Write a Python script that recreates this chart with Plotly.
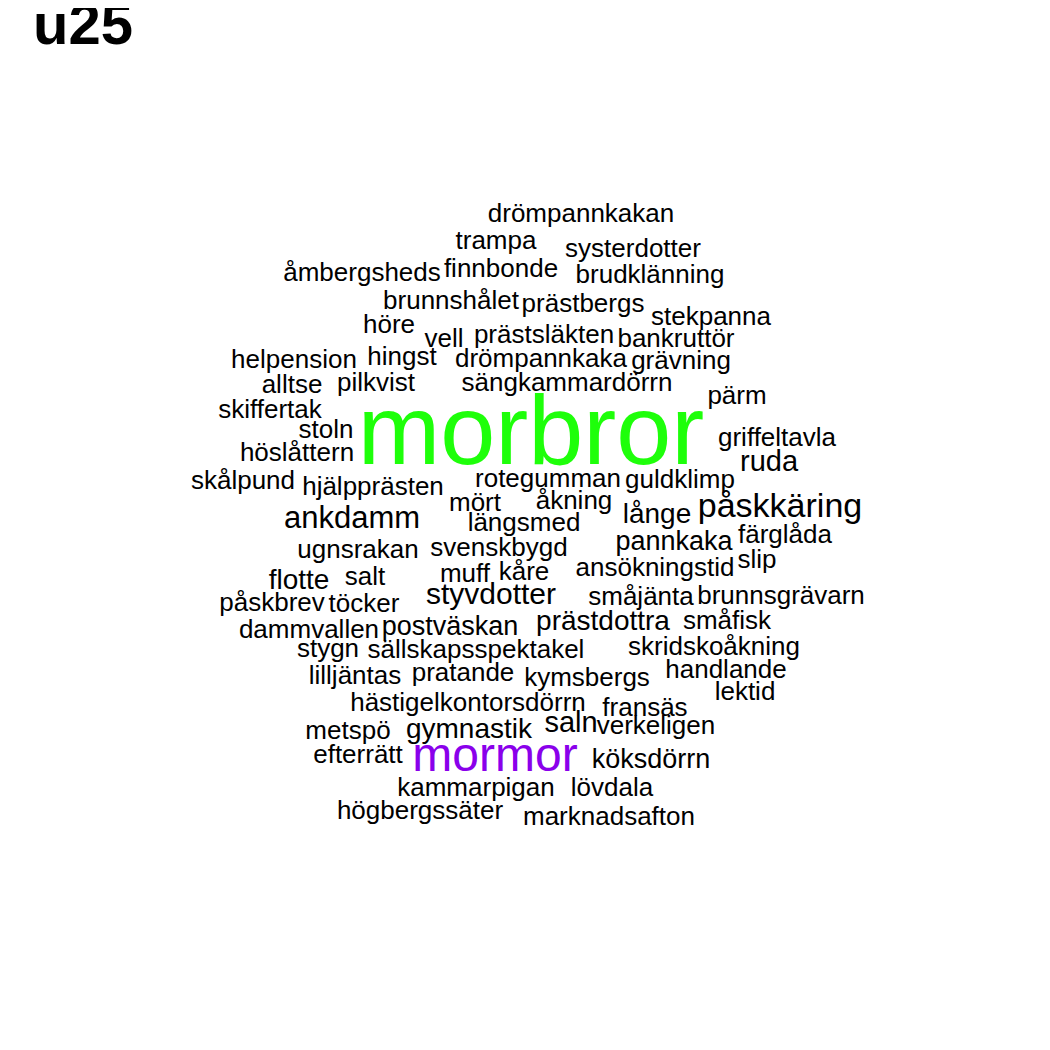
import plotly.graph_objects as go

words = ["drömpannkakan", "trampa", "systerdotter", "åmbergsheds", "finnbonde", "brudklänning",
         "brunnshålet", "prästbergs", "stekpanna", "höre", "vell", "prästsläkten", "bankruttör",
         "helpension", "hingst", "drömpannkaka", "grävning", "alltse", "pilkvist", "sängkammardörrn",
         "pärm", "skiffertak", "morbror", "stoln", "höslåttern", "griffeltavla", "ruda", "skålpund",
         "hjälpprästen", "rotegumman", "guldklimp", "mört", "åkning", "påskkäring", "ankdamm",
         "längsmed", "långe", "pannkaka", "färglåda", "ugnsrakan", "svenskbygd", "slip",
         "ansökningstid", "flotte", "salt", "muff", "kåre", "styvdotter", "småjänta", "brunnsgrävarn",
         "påskbrev", "töcker", "dammvallen", "postväskan", "prästdottra", "småfisk", "stygn",
         "sällskapsspektakel", "skridskoåkning", "lilljäntas", "pratande", "kymsbergs", "handlande",
         "lektid", "hästigelkontorsdörrn", "fransäs", "metspö", "gymnastik", "saln", "verkeligen",
         "efterrätt", "mormor", "köksdörrn", "kammarpigan", "lövdala", "högbergssäter", "marknadsafton"]

word_x = [581, 496, 633, 362, 501, 650,
          451, 583, 711, 389, 444, 544, 676,
          294, 402, 541, 681, 292, 376, 567,
          737, 270, 531, 326, 297, 777, 769, 243,
          373, 548, 680, 475, 574, 780, 352,
          524, 657, 674, 785, 358, 499, 757,
          655, 299, 365, 465, 524, 491, 641, 781,
          272, 364, 309, 450, 603, 727, 328,
          476, 714, 355, 463, 587, 726,
          745, 468, 645, 348, 469, 571, 656,
          358, 495, 651, 476, 612, 420, 609]

word_y = [213, 240, 248, 272, 268, 274,
          300, 303, 316, 324, 338, 334, 338,
          359, 356, 358, 360, 384, 382, 382,
          395, 409, 437, 429, 452, 437, 462, 480,
          486, 478, 479, 502, 500, 506, 518,
          522, 514, 541, 534, 549, 547, 559,
          567, 580, 576, 573, 571, 594, 596, 595,
          602, 603, 629, 626, 621, 620, 648,
          649, 646, 675, 672, 677, 669,
          691, 702, 707, 730, 729, 723, 725,
          754, 757, 759, 787, 787, 810, 816]

word_size = [26, 26, 26, 26, 26, 26,
             26, 26, 26, 26, 26, 26, 26,
             26, 26, 26, 26, 26, 26, 26,
             26, 26, 99, 26, 26, 26, 29, 26,
             26, 26, 26, 26, 26, 34, 31,
             26, 28, 27, 26, 26, 26, 26,
             26, 28, 26, 26, 26, 30, 26, 26,
             26, 26, 26, 27, 28, 26, 26,
             26, 26, 26, 26, 26, 26,
             26, 26, 26, 26, 28, 29, 26,
             26, 48, 27, 26, 26, 26, 26]

title_text = "u25"

word_color = ["#1EFF0A" if w == "morbror" else "#8A00EB" if w == "mormor" else "#000000" for w in words]

fig = go.Figure()
fig.add_trace(go.Scatter(
    x=word_x, y=word_y, text=words, mode="text",
    textposition="middle center",
    textfont=dict(family="Liberation Sans, Arial, sans-serif", size=word_size, color=word_color),
    hoverinfo="text", showlegend=False, cliponaxis=False,
))

fig.add_annotation(x=31, y=21, xref="x", yref="y", text="<b>" + title_text + "</b>", showarrow=False,
                   xanchor="left", yanchor="middle",
                   font=dict(family="Liberation Sans, Arial, sans-serif", size=58, color="#000000"))

fig.update_layout(
    width=1050, height=1050,
    margin=dict(l=0, r=0, t=0, b=0),
    paper_bgcolor="white", plot_bgcolor="white",
    xaxis=dict(range=[8, 1058], visible=False, fixedrange=True),
    yaxis=dict(range=[1056, 6], visible=False, fixedrange=True),
)

fig.write_html("out.html", config={"displayModeBar": False})
